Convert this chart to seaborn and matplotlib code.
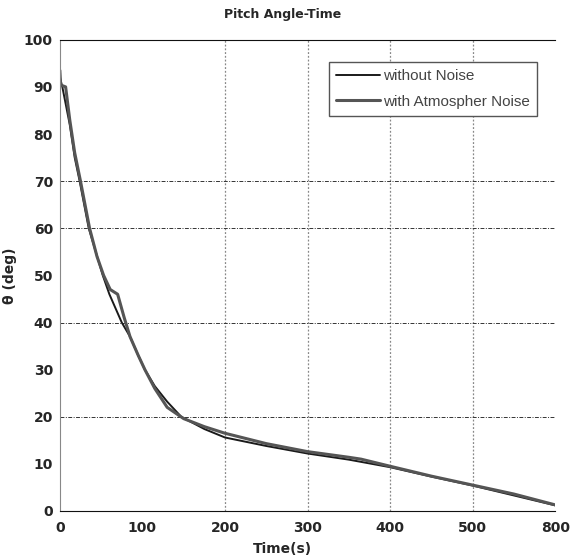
import matplotlib
matplotlib.use("Agg")
import matplotlib.pyplot as plt
import seaborn as sns
import pandas as pd

# time (s) and pitch angle (deg)
t_clean = [0, 3, 12, 18, 24, 35, 52, 60, 75, 85, 95, 103, 115, 130, 147,
           175, 200, 250, 300, 350, 400, 450, 500, 550, 600]
theta_clean = [92, 90, 82, 75, 70, 60, 50, 46, 40, 37, 33, 30, 26.5, 23.2, 20,
               17.4, 15.6, 13.8, 12.2, 10.9, 9.3, 7.3, 5.4, 3.3, 1.2]

t_noise = [0, 1, 7, 12, 18, 25, 36, 45, 53, 61, 70, 78, 85, 95, 103, 115,
           130, 150, 175, 200, 250, 300, 350, 365, 400, 450, 500, 550, 600]
theta_noise = [93.5, 90.4, 90, 83, 76, 70, 60, 54, 50, 47, 46, 41, 37, 33,
               30, 26, 22, 19.6, 17.9, 16.5, 14.3, 12.6, 11.4, 11, 9.5, 7.4,
               5.5, 3.6, 1.3]

x_ticks = [0, 100, 200, 300, 400, 500, 600]
x_tick_labels = ["0", "100", "200", "300", "400", "500", "800"]
y_ticks = [0, 10, 20, 30, 40, 50, 60, 70, 80, 90, 100]
grid_x = [200, 300, 400, 500]
grid_y = [20, 40, 60, 70]

df = pd.concat([
    pd.DataFrame({"t": t_clean, "theta": theta_clean, "series": "without Noise"}),
    pd.DataFrame({"t": t_noise, "theta": theta_noise, "series": "with Atmospher Noise"}),
])

sns.set_style("white")
plt.rcParams["font.family"] = ["DejaVu Sans"]
fig, ax = plt.subplots(figsize=(5.7, 5.6), dpi=100)
plt.subplots_adjust(left=0.105, right=0.974, top=0.929, bottom=0.0875)

for gx in grid_x:
    ax.axvline(gx, color="#888888", lw=0.9, ls=(0, (1.5, 1.5)), zorder=0)
for gy in grid_y:
    ax.axhline(gy, color="#333333", lw=0.7, ls=(0, (4, 1.5, 1, 1.5)), zorder=0)

sns.lineplot(data=df, x="t", y="theta", hue="series", sort=False,
             palette={"without Noise": "#1a1a1a", "with Atmospher Noise": "#555555"},
             size="series", sizes={"without Noise": 1.4, "with Atmospher Noise": 2.2},
             ax=ax, estimator=None)

ax.set_xlim(0, 600)
ax.set_ylim(0, 100)
ax.set_xticks(x_ticks)
ax.set_xticklabels(x_tick_labels)
ax.set_yticks(y_ticks)
ax.tick_params(direction="in", length=4, color="#888888", labelsize=10)
ax.tick_params(axis="x", pad=7)
ax.tick_params(axis="y", pad=5)
for lab in ax.get_xticklabels() + ax.get_yticklabels():
    lab.set_fontweight("bold")

ax.spines["left"].set_color("#888888")
ax.spines["top"].set_color("#111111")
ax.spines["bottom"].set_color("#111111")
ax.spines["right"].set_visible(False)

ax.set_title("Pitch Angle-Time", fontsize=9, fontweight="bold", pad=16, x=0.45)
ax.set_xlabel("Time(s)", fontsize=10, fontweight="bold")
ax.xaxis.set_label_coords(0.45, -0.065)
ax.set_ylabel("θ (deg)", fontsize=10, fontweight="bold", labelpad=5)

leg = ax.legend(loc="upper right", bbox_to_anchor=(0.978, 0.968),
                prop={"family": "Liberation Sans", "size": 11},
                fancybox=False, framealpha=1, edgecolor="#555555",
                handlelength=2.9, borderpad=0.45, labelspacing=0.75,
                handletextpad=0.2)
for txt in leg.get_texts():
    txt.set_color("#444444")

fig.savefig("out.png", dpi=100)
